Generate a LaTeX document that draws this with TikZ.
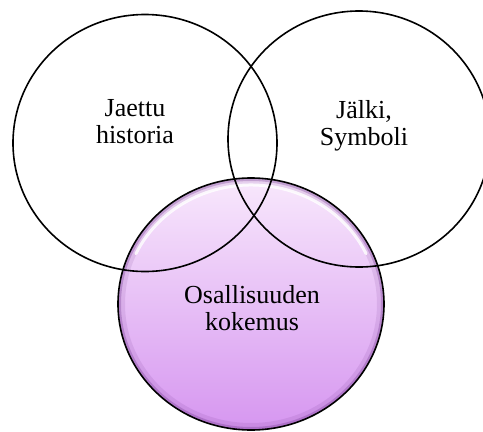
\documentclass[tikz,border=0pt]{standalone}
\usepackage{fontspec}
\setmainfont{Liberation Serif}
\usetikzlibrary{shapes.geometric}

\definecolor{lilaTop}{RGB}{248,232,252}
\definecolor{lilaBot}{RGB}{214,150,240}
\definecolor{lilaRim}{RGB}{110,50,140}

\begin{document}
\begin{tikzpicture}[x=1pt,y=-1pt,line width=1.6pt,
  ring/.style={ellipse,draw=black,inner sep=0pt},
  lbl/.style={align=center,font=\fontsize{26}{27}\selectfont}]
  \useasboundingbox (0,0) rectangle (483,432);
  \clip (0,0) rectangle (483,432);
  % filled circle at the bottom
  \node[ellipse,inner sep=0pt,minimum width=266pt,minimum height=252pt,
        top color=lilaTop,bottom color=lilaBot] (koke) at (251,304) {};
  % glossy rim of the bottom circle
  \begin{scope}
    \clip (251,304) ellipse (133pt and 126pt);
    \draw[lilaRim,opacity=0.3,line width=6pt] (251,304) ellipse (133pt and 126pt);
    \draw[lilaRim,opacity=0.12,line width=14pt] (251,304) ellipse (133pt and 126pt);
    \draw[white,opacity=0.85,line width=3pt,line cap=round]
      (251,304) ++(25:127pt and 119pt) arc[start angle=25,end angle=155,x radius=127pt,y radius=119pt];
  \end{scope}
  % outlines
  \node[ring,minimum width=266pt,minimum height=252pt] (kokeR) at (251,304) {};
  \node[ring,minimum width=264pt,minimum height=257pt] (hist) at (145,143) {};
  \node[ring,minimum width=262pt,minimum height=256pt] (jalki) at (359,139) {};
  % labels
  \node[lbl] (histT) at (135,122) {Jaettu\\historia};
  \node[lbl] (jalkiT) at (364,126) {Jälki,\\Symboli};
  \node[lbl] (kokeT) at (252,308) {Osallisuuden\\kokemus};
\end{tikzpicture}
\end{document}
